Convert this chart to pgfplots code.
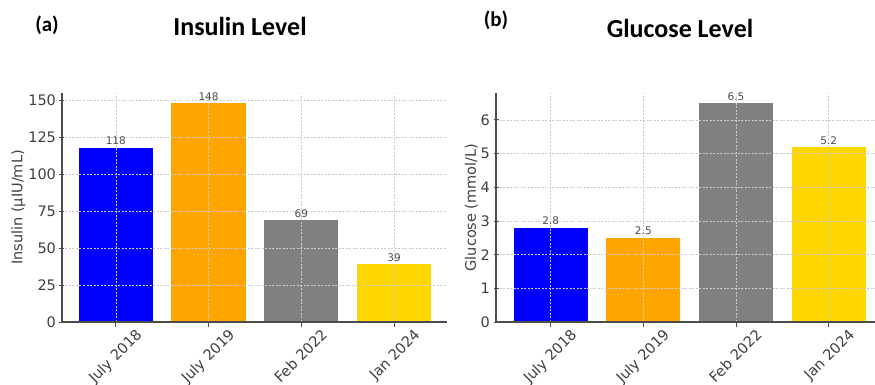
\documentclass[border=0pt]{standalone}
\usepackage{fontspec}
\setmainfont{DejaVu Sans}
\newfontfamily\calibri{Carlito}
\usepackage{pgfplots}
\pgfplotsset{compat=1.18}
\definecolor{cblue}{HTML}{0000FF}
\definecolor{corange}{HTML}{FFA500}
\definecolor{cgray}{HTML}{808080}
\definecolor{cgold}{HTML}{FFD700}
\begin{document}
\begin{tikzpicture}
\useasboundingbox (0pt,0pt) rectangle (875pt,385pt);
\pgfplotsset{
 mystyle/.style={
  scale only axis, height=229pt,
  axis x line*=bottom, axis y line*=left,
  axis line style={black!70, line width=1.5pt},
  grid=major, major grid style={dash pattern=on 2pt off 1.5pt, gray!40, line width=0.6pt},
  axis on top,
  tick align=center, major tick length=5pt, tick style={black!70, line width=0.9pt},
  ticklabel style={font=\fontsize{14.5}{16}\selectfont, text=black!75},
  /pgf/number format/assume math mode=true,
  ylabel style={font=\fontsize{14.5}{16}\selectfont, text=black!75},
  ylabel shift=-4pt,
  xtick={0,1,2,3}, xticklabels={July 2018, July 2019, Feb 2022, Jan 2024},
  x tick label style={xshift=19pt, yshift=2pt, rotate=45, anchor=north east, inner sep=2pt},
  ymin=0, ybar, bar width=0.8, bar shift=0pt,
  nodes near coords,
  nodes near coords style={font=\fontsize{10.5}{12}\selectfont, text=black!70, inner sep=2.5pt},
 }
}
\begin{axis}[mystyle, at={(62pt,63pt)}, anchor=south west, width=385pt,
  xmin=-0.58, xmax=3.57, ymax=155, ytick={0,25,...,150},
  ylabel={Insulin (µIU/mL)}]
\addplot[fill=cblue, draw=none] coordinates {(0,118)};
\addplot[fill=corange, draw=none] coordinates {(1,148)};
\addplot[fill=cgray, draw=none] coordinates {(2,69)};
\addplot[fill=cgold, draw=none] coordinates {(3,39)};
\end{axis}
\begin{axis}[mystyle, at={(496pt,63pt)}, anchor=south west, width=379pt,
  xmin=-0.59, xmax=3.5, ymax=6.8, ytick={0,1,...,6},
  ylabel={Glucose (mmol/L)},
  nodes near coords={\pgfmathprintnumber[fixed,precision=1,fixed zerofill]{\pgfplotspointmeta}}]
\addplot[fill=cblue, draw=none] coordinates {(0,2.8)};
\addplot[fill=corange, draw=none] coordinates {(1,2.5)};
\addplot[fill=cgray, draw=none] coordinates {(2,6.5)};
\addplot[fill=cgold, draw=none] coordinates {(3,5.2)};
\end{axis}
\node[font=\calibri\bfseries\fontsize{21}{23}\selectfont] at (47pt,360pt) {(a)};
\node[font=\calibri\bfseries\fontsize{26}{28}\selectfont] at (240pt,359pt) {Insulin Level};
\node[font=\calibri\bfseries\fontsize{21}{23}\selectfont] at (496pt,365pt) {(b)};
\node[font=\calibri\bfseries\fontsize{26}{28}\selectfont] at (680pt,357pt) {Glucose Level};
\end{tikzpicture}
\end{document}
